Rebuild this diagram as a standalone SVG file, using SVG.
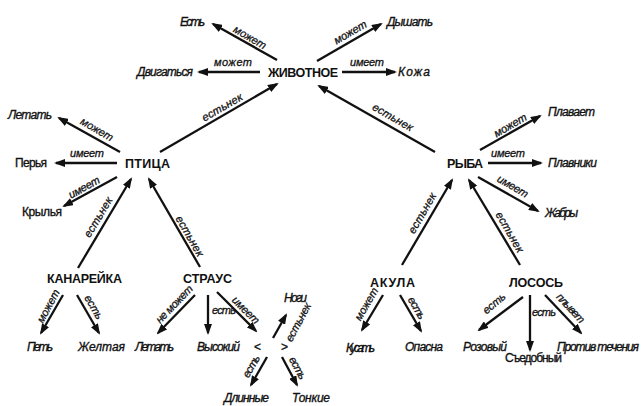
<svg xmlns="http://www.w3.org/2000/svg" width="641" height="406" viewBox="0 0 641 406">
<defs>
<marker id="ah" markerUnits="userSpaceOnUse" markerWidth="11" markerHeight="8" refX="9" refY="4" orient="auto">
<path d="M0,0 L11,4 L0,8 z" fill="#111"/>
</marker>
<style>
.n{font-family:"Liberation Sans",Arial,sans-serif;font-weight:bold;font-size:12.5px;fill:#111;text-anchor:middle}
.l{font-family:"Liberation Sans",Arial,sans-serif;font-style:italic;font-size:12px;fill:#111;stroke:#111;stroke-width:0.35}
.lu{font-family:"Liberation Sans",Arial,sans-serif;font-size:12px;fill:#111;stroke:#111;stroke-width:0.35}
.e{font-family:"Liberation Sans",Arial,sans-serif;font-style:italic;font-size:11px;fill:#111;stroke:#111;stroke-width:0.3;text-anchor:middle;dominant-baseline:central}
.c line{stroke:#111;stroke-width:2.3;marker-end:url(#ah)}
</style>
</defs>
<rect width="641" height="406" fill="#fff"/>

<g id="connectors" class="c">
<line x1="277" y1="60" x2="213" y2="24"/>
<line x1="317" y1="61" x2="381" y2="24"/>
<line x1="260" y1="72" x2="199" y2="72"/>
<line x1="342" y1="72" x2="395" y2="72"/>
<line x1="160" y1="152" x2="277" y2="84"/>
<line x1="435" y1="152" x2="319" y2="86"/>
<line x1="120" y1="152" x2="59" y2="118"/>
<line x1="117" y1="163" x2="56" y2="163"/>
<line x1="117" y1="177" x2="64" y2="206"/>
<line x1="78" y1="268" x2="131" y2="179"/>
<line x1="200" y1="267" x2="149" y2="179"/>
<line x1="63" y1="295" x2="41" y2="333"/>
<line x1="77" y1="295" x2="99" y2="333"/>
<line x1="195" y1="295" x2="158" y2="333"/>
<line x1="208" y1="295" x2="208" y2="333"/>
<line x1="217" y1="292" x2="256" y2="331"/>
<line x1="273" y1="338" x2="286" y2="315"/>
<line x1="267" y1="357" x2="251" y2="385"/>
<line x1="282" y1="357" x2="297" y2="385"/>
<line x1="383" y1="295" x2="362" y2="330"/>
<line x1="400" y1="295" x2="421" y2="331"/>
<line x1="402" y1="265" x2="452" y2="180"/>
<line x1="520" y1="265" x2="469" y2="180"/>
<line x1="523" y1="297" x2="479" y2="330"/>
<line x1="530" y1="295" x2="530" y2="350"/>
<line x1="545" y1="295" x2="581" y2="333"/>
<line x1="480" y1="150" x2="540" y2="116"/>
<line x1="488" y1="163" x2="541" y2="163"/>
<line x1="478" y1="177" x2="538" y2="211"/>
</g>

<g id="edge-labels">
<text class="e" transform="translate(250,37) rotate(30)" textLength="36">может</text>
<text class="e" transform="translate(350,32) rotate(-30)" textLength="36">может</text>
<text class="e" transform="translate(233,62)" textLength="38">может</text>
<text class="e" transform="translate(367,62)" textLength="34">имеет</text>
<text class="e" transform="translate(222,107) rotate(-30)" textLength="45">естьнек</text>
<text class="e" transform="translate(393,117) rotate(30)" textLength="45">естьнек</text>
<text class="e" transform="translate(97,129) rotate(30)" textLength="36">может</text>
<text class="e" transform="translate(87,153)" textLength="34">имеет</text>
<text class="e" transform="translate(84,187) rotate(-29)" textLength="34">имеет</text>
<text class="e" transform="translate(98,217) rotate(-59)" textLength="45">естьнек</text>
<text class="e" transform="translate(190,236) rotate(60)" textLength="45">естьнек</text>
<text class="e" transform="translate(48,306) rotate(-62)" textLength="36">может</text>
<text class="e" transform="translate(94,307) rotate(60)" textLength="26">есть</text>
<text class="e" transform="translate(174,304) rotate(-46)" textLength="48">не может</text>
<text class="e" transform="translate(224,310)" textLength="24">есть</text>
<text class="e" transform="translate(246,310) rotate(45)" textLength="34">имеет</text>
<text class="e" transform="translate(298,322) rotate(-62)" textLength="42">естьнек</text>
<text class="e" transform="translate(251,366) rotate(-60)" textLength="24">есть</text>
<text class="e" transform="translate(298,368) rotate(62)" textLength="24">есть</text>
<text class="e" transform="translate(366,304) rotate(-60)" textLength="36">может</text>
<text class="e" transform="translate(417,308) rotate(60)" textLength="24">есть</text>
<text class="e" transform="translate(422,213) rotate(-60)" textLength="45">естьнек</text>
<text class="e" transform="translate(510,232) rotate(60)" textLength="45">естьнек</text>
<text class="e" transform="translate(494,303) rotate(-40)" textLength="26">есть</text>
<text class="e" transform="translate(544,312)" textLength="24">есть</text>
<text class="e" transform="translate(571,308) rotate(47)" textLength="36">плывет</text>
<text class="e" transform="translate(510,125) rotate(-30)" textLength="36">может</text>
<text class="e" transform="translate(508,153)" textLength="34">имеет</text>
<text class="e" transform="translate(513,186) rotate(30)" textLength="34">имеет</text>
</g>

<g id="node-zhivotnoe"><text class="n" x="303" y="77" textLength="70">ЖИВОТНОЕ</text></g>
<g id="node-ptica"><text class="n" x="147.5" y="168" textLength="45">ПТИЦА</text></g>
<g id="node-ryba"><text class="n" x="465" y="168" textLength="36">РЫБА</text></g>
<g id="node-kanareika"><text class="n" x="84.5" y="283" textLength="75">КАНАРЕЙКА</text></g>
<g id="node-straus"><text class="n" x="207.5" y="283" textLength="49">СТРАУС</text></g>
<g id="node-akula"><text class="n" x="392.5" y="287" textLength="45">АКУЛА</text></g>
<g id="node-losos"><text class="n" x="536" y="287" textLength="54">ЛОСОСЬ</text></g>

<g id="leaf-est"><text class="l" x="180" y="26" textLength="25">Есть</text></g>
<g id="leaf-dyshat"><text class="l" x="387" y="26" textLength="46">Дышать</text></g>
<g id="leaf-dvigatsya"><text class="l" x="137" y="76" textLength="56">Двигаться</text></g>
<g id="leaf-kozha"><text class="l" x="398" y="76" textLength="32">Кожа</text></g>
<g id="leaf-letat1"><text class="l" x="8" y="119" textLength="44">Летать</text></g>
<g id="leaf-perya"><text class="lu" x="15" y="167" textLength="32">Перья</text></g>
<g id="leaf-krylya"><text class="lu" x="22" y="216" textLength="40">Крылья</text></g>
<g id="leaf-plavaet"><text class="l" x="548" y="116" textLength="47">Плавает</text></g>
<g id="leaf-plavniki"><text class="l" x="548" y="167" textLength="49">Плавники</text></g>
<g id="leaf-zhabry"><text class="l" x="545" y="217" textLength="33">Жабры</text></g>
<g id="leaf-pet"><text class="l" x="27" y="351" textLength="26">Петь</text></g>
<g id="leaf-zheltaya"><text class="l" x="78" y="351" textLength="47">Желтая</text></g>
<g id="leaf-letat2"><text class="l" x="135" y="351" textLength="39">Летать</text></g>
<g id="leaf-vysokiy"><text class="l" x="197" y="351" textLength="43">Высокий</text></g>
<g id="leaf-lt"><text class="lu" x="254" y="351">&lt;</text></g>
<g id="leaf-gt"><text class="lu" x="281" y="351">&gt;</text></g>
<g id="leaf-nogi"><text class="l" x="284" y="302" textLength="23">Ноги</text></g>
<g id="leaf-dlinnye"><text class="l" x="224" y="402" textLength="45">Длинные</text></g>
<g id="leaf-tonkie"><text class="l" x="292" y="402" textLength="38">Тонкие</text></g>
<g id="leaf-kusat"><text class="l" x="346" y="352" textLength="29">Кусать</text></g>
<g id="leaf-opasna"><text class="l" x="405" y="351" textLength="38">Опасна</text></g>
<g id="leaf-rozovyy"><text class="l" x="463" y="351" textLength="44">Розовый</text></g>
<g id="leaf-sedobnyy"><text class="lu" x="505" y="362" textLength="57">Съедобный</text></g>
<g id="leaf-protiv"><text class="l" x="557" y="351" textLength="82">Против течения</text></g>
</svg>
